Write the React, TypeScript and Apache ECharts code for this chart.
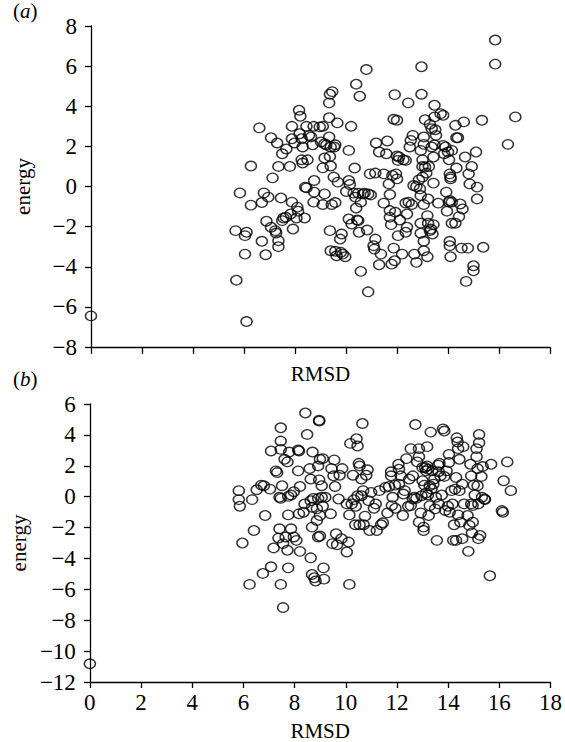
import React, { useEffect, useRef } from "react";
import * as echarts from "echarts";

const xTicksA: number[] = [0, 2, 4, 6, 8, 10, 12, 14, 16, 18];
const yRangeA = [-8, 8];
const yRangeB = [-12, 6];

const pointsA: number[][] = [
  [0, -6.45], [5.7, -4.67], [5.67, -2.2], [5.84, -0.32], [6.04, -2.45], [6.1, -2.28], [6.04, -3.37], [6.1, -6.73],
  [6.27, 1.02], [6.27, -0.93], [6.6, 2.92], [6.7, -2.73], [6.7, -0.8], [6.78, -0.32], [6.85, -3.4], [6.88, -1.73],
  [6.95, -0.53], [7.06, 2.43], [7.12, 0.43], [7.06, -2.03], [7.23, -2.2], [7.26, -2.32], [7.3, 2.17], [7.35, 1.0],
  [7.35, -2.7], [7.35, -3.0], [7.45, -0.57], [7.5, 1.63], [7.5, -1.7], [7.55, -1.57], [7.64, -1.53], [7.66, 1.87],
  [7.8, 1.0], [7.88, 3.0], [7.88, 2.38], [7.83, -1.37], [7.88, -0.78], [7.92, -2.12], [7.98, 2.17], [8.06, -1.57],
  [8.09, -1.03], [8.12, -1.23], [8.16, 3.8], [8.21, 3.5], [8.18, 2.63], [8.26, 2.38], [8.3, 1.97], [8.26, 1.33],
  [8.3, 1.17], [8.49, 1.33], [8.45, 3.0], [8.38, -1.57], [8.4, -0.03], [8.45, -0.07], [8.55, 2.55], [8.63, 2.47],
  [8.69, 2.08], [8.73, 3.0], [8.75, 0.3], [8.75, -0.28], [8.73, -0.78], [8.97, 2.97], [9.02, 2.22], [9.09, 3.0],
  [9.09, -0.9], [9.09, 0.93], [9.16, 2.13], [9.16, -0.37], [9.16, 1.42], [9.23, 2.07], [9.34, 3.43], [9.34, 4.17],
  [9.37, 4.6], [9.46, 4.73], [9.34, 2.47], [9.37, 1.5], [9.37, -2.2], [9.4, -3.2], [9.4, 1.02], [9.4, 1.97],
  [9.44, -0.9], [9.52, 0.47], [9.54, 1.97], [9.58, -0.8], [9.58, 2.08], [9.58, -3.23], [9.63, -3.45], [9.66, 3.17],
  [9.68, 0.22], [9.77, -2.62], [9.83, -2.37], [9.8, -3.28], [9.87, -3.37], [9.97, -3.5], [10.01, -0.25], [10.11, 1.8],
  [10.11, 0.3], [10.11, -1.62], [10.15, 0.1], [10.2, 3.0], [10.22, -1.87], [10.3, -0.33], [10.34, 0.92], [10.37, -0.53],
  [10.4, -1.07], [10.4, 5.1], [10.44, -1.67], [10.48, -1.7], [10.48, -0.33], [10.51, -2.28], [10.54, 4.5], [10.58, -4.23],
  [10.58, -0.78], [10.66, -0.37], [10.73, -0.33], [10.8, 5.83], [10.83, -2.17], [10.87, -5.25], [10.87, -0.37], [10.94, 0.63],
  [10.97, -0.42], [11.08, -2.95], [11.15, -2.62], [11.11, -3.12], [11.15, 0.67], [11.18, 2.17], [11.3, 1.72], [11.37, -3.37],
  [11.3, -3.9], [11.48, 0.63], [11.48, -0.83], [11.62, 2.27], [11.58, 1.63], [11.68, 0.13], [11.72, -0.4], [11.72, -1.2],
  [11.72, -1.53], [11.77, -1.9], [11.79, -3.87], [11.82, 0.55], [11.87, -3.07], [11.91, -3.7], [11.93, -1.28], [11.91, 4.58],
  [11.87, 3.35], [11.96, 0.63], [12.0, 0.38], [12.0, 3.3], [12.0, 1.52], [12.04, 1.3], [12.08, 1.47], [12.04, -2.45],
  [12.11, -1.67], [12.2, -3.37], [12.25, 1.33], [12.34, 1.3], [12.34, -0.82], [12.34, -2.28], [12.39, -2.03], [12.44, 4.17],
  [12.39, -1.37], [12.46, -0.78], [12.5, 1.97], [12.54, 2.3], [12.58, -0.9], [12.62, 2.55], [12.65, 0.05], [12.68, -3.37],
  [12.76, -3.78], [12.76, 0], [12.86, 0.33], [12.9, -0.12], [12.93, 1.8], [12.96, 5.97], [12.96, 4.6], [12.93, -0.45],
  [12.93, -1.83], [12.93, -2.33], [13.0, 1.33], [13.0, 1.0], [13.0, 0.47], [13.05, 2.47], [13.05, 2.1], [13.05, -0.9],
  [13.05, -2.73], [13.05, -3.2], [13.1, 3.33], [13.1, 0.97], [13.15, 0.67], [13.19, -1.45], [13.19, -3.5], [13.22, -1.83],
  [13.22, -0.62], [13.25, 1.0], [13.29, 3.1], [13.29, -2.2], [13.33, -2.12], [13.36, 2.88], [13.36, 1.97], [13.39, -2.37],
  [13.43, 1.47], [13.43, 0.17], [13.47, 4.05], [13.47, 3.47], [13.47, 2.08], [13.43, -1.9], [13.5, 2.83], [13.53, 2.55],
  [13.62, -0.83], [13.71, 3.63], [13.81, 3.55], [13.81, 2.05], [13.85, 1.63], [13.9, 1.97], [13.93, -0.28], [13.96, -1.23],
  [14.0, 1.72], [14.04, -0.78], [14.04, 1.33], [14.07, -0.7], [14.07, 0.63], [14.1, 0.47], [14.1, 0.38], [14.07, -2.73],
  [14.07, -2.95], [14.1, -3.5], [14.15, -1.83], [14.15, 1.8], [14.15, -0.78], [14.29, 3.05], [14.29, -1.83], [14.33, 0.92],
  [14.33, 2.43], [14.39, 2.43], [14.43, -1.5], [14.48, -0.87], [14.57, -1.12], [14.53, -3.07], [14.62, 3.22], [14.67, 1.47],
  [14.71, -4.73], [14.78, -3.07], [14.81, 0.63], [14.85, 0.13], [14.93, 1.0], [15.0, -3.95], [15.0, -4.2], [15.1, 1.72],
  [15.14, -0.03], [15.14, -0.62], [15.33, 3.3], [15.38, -3.03], [15.85, 7.3], [15.85, 6.1], [16.35, 2.1], [16.64, 3.47],
];

const pointsB: number[][] = [
  [0, -10.82], [5.82, 0.39], [5.82, -0.19], [5.86, -0.62], [5.96, -3.0], [6.24, -5.68], [6.34, -0.19], [6.41, -2.19],
  [6.52, 0.45], [6.7, 0.75], [6.76, -4.97], [6.8, 0.71], [6.85, -1.22], [7.04, 0.49], [7.08, 2.96], [7.08, -4.54],
  [7.18, -3.32], [7.27, 1.67], [7.32, 1.56], [7.37, -2.68], [7.41, -2.08], [7.41, -0.04], [7.46, -0.11], [7.46, 4.46],
  [7.46, 3.6], [7.46, 3.06], [7.46, -5.68], [7.51, 0.71], [7.55, -3.04], [7.55, -7.18], [7.61, 2.42], [7.65, -2.61],
  [7.72, 2.25], [7.72, -3.47], [7.75, -1.18], [7.75, 0.02], [7.75, -4.61], [7.79, 2.89], [7.86, 0.11], [7.86, -2.08],
  [7.97, 0.32], [7.97, -2.61], [8.07, -2.83], [8.14, 1.67], [8.14, 3.02], [8.17, 2.96], [8.17, -1.11], [8.21, -3.54],
  [8.21, 0.66], [8.35, -1.01], [8.39, -0.47], [8.42, 5.42], [8.49, 4.03], [8.59, 1.82], [8.63, 1.14], [8.63, -3.96],
  [8.63, -0.26], [8.68, -0.69], [8.68, -1.97], [8.68, -5.04], [8.7, 2.89], [8.73, -0.11], [8.77, -5.25], [8.82, -5.46],
  [8.87, -1.54], [8.87, -0.79], [8.92, -0.11], [8.92, 1.99], [8.92, -2.61], [8.96, 4.95], [8.96, 4.89], [8.96, 1.09],
  [8.99, 2.42], [8.99, -1.22], [8.99, -2.55], [9.06, -0.04], [9.06, 0.71], [9.1, 2.46], [9.1, -0.62], [9.13, -4.61],
  [9.15, -5.34], [9.2, -0.04], [9.41, -1.11], [9.44, 1.82], [9.48, -3.04], [9.52, 1.35], [9.55, 2.38], [9.58, 0.66],
  [9.62, -2.4], [9.66, -3.11], [9.72, -0.15], [9.76, 1.39], [9.83, -2.72], [9.86, 1.82], [10.04, -0.47], [10.04, -3.58],
  [10.11, -2.94], [10.14, -5.68], [10.14, -1.18], [10.18, 3.45], [10.23, -0.47], [10.28, 1.39], [10.32, -0.19], [10.37, -1.82],
  [10.39, -0.62], [10.42, 3.75], [10.46, 3.28], [10.46, 0.06], [10.51, 2.16], [10.54, 1.99], [10.54, -1.82], [10.61, 0.06],
  [10.61, 1.14], [10.65, 4.74], [10.68, 0.39], [10.7, -1.82], [10.75, -1.26], [10.8, 1.39], [10.85, 1.74], [10.89, -0.26],
  [10.93, -2.19], [10.99, 0.28], [11.1, -0.75], [11.17, -0.47], [11.21, -2.19], [11.31, 0.39], [11.38, -1.82], [11.45, -1.69],
  [11.55, 0.6], [11.63, -1.05], [11.69, 0.66], [11.77, 1.61], [11.77, 1.35], [11.8, -0.58], [11.83, -0.04], [11.92, 0.75],
  [11.94, -0.75], [12.06, 2.1], [12.08, 1.78], [12.08, 0.81], [12.15, 1.35], [12.23, -1.22], [12.25, 0.17], [12.3, 0.39],
  [12.37, 2.46], [12.44, -0.62], [12.48, 1.14], [12.54, -0.58], [12.54, 3.11], [12.62, 1.35], [12.62, -0.15], [12.68, -0.04],
  [12.72, 4.67], [12.76, -0.11], [12.79, 2.25], [12.86, 3.11], [12.86, 2.59], [12.86, -1.65], [12.93, -1.05], [12.96, 0.06],
  [13.0, 1.03], [13.0, 1.89], [13.04, -2.19], [13.04, -1.97], [13.07, 0.75], [13.1, 1.89], [13.14, 1.67], [13.14, 0.24],
  [13.18, 3.24], [13.18, 1.99], [13.21, 0.11], [13.21, 1.78], [13.24, -1.22], [13.28, -0.58], [13.28, 0.71], [13.32, 4.18],
  [13.35, 0.49], [13.38, 1.67], [13.42, 0.81], [13.46, 1.14], [13.49, -0.79], [13.52, -0.04], [13.56, -2.83], [13.61, 2.04],
  [13.63, -0.47], [13.63, 1.61], [13.66, 2.16], [13.7, 1.35], [13.75, 0.11], [13.8, 4.39], [13.85, 4.25], [13.85, 1.31],
  [13.89, -0.9], [13.94, 1.67], [13.99, -0.62], [14.03, 2.21], [14.03, 2.74], [14.06, -1.01], [14.13, 0.39], [14.17, -0.47],
  [14.2, -2.83], [14.23, -1.82], [14.27, 0.49], [14.31, 1.24], [14.31, -2.83], [14.34, 3.81], [14.37, 3.54], [14.39, 3.11],
  [14.39, -1.18], [14.44, 0.39], [14.44, 2.42], [14.48, -1.65], [14.55, 0.81], [14.55, -2.72], [14.59, 3.24], [14.62, -0.47],
  [14.76, -1.22], [14.79, -3.54], [14.83, -1.86], [14.87, 2.1], [14.9, 1.35], [14.9, -0.47], [14.93, -2.34], [14.96, -0.58],
  [14.96, -1.65], [15.0, 0.75], [15.04, 0.11], [15.11, 2.59], [15.11, 3.11], [15.15, 1.82], [15.15, 0.71], [15.18, -0.47],
  [15.18, -2.72], [15.21, 4.03], [15.21, 3.49], [15.25, -2.51], [15.3, 1.31], [15.32, -0.04], [15.35, 1.95], [15.42, -0.15],
  [15.44, -0.19], [15.63, -5.12], [15.68, 2.1], [16.1, -0.9], [16.14, -1.01], [16.17, 1.03], [16.31, 2.25], [16.45, 0.39],
];

const FONT = "Liberation Serif, Times New Roman, serif";
const FS = 21;
const TICK_FS = 23;

function App() {
  const ref = useRef<HTMLDivElement>(null);
  useEffect(() => {
    if (!ref.current) return;
    const chart = echarts.init(ref.current, null, { renderer: "svg" });
    const minus = (v: number) => (v < 0 ? "\u2212" + String(-v) : String(v));
    const axisLine = { show: true, onZero: false, lineStyle: { color: "#000", width: 1.3 } };
    const axisTick = { show: true, inside: false, length: 7, lineStyle: { color: "#000", width: 1.3 } };
    const label = { color: "#000", fontFamily: FONT, fontSize: TICK_FS, formatter: minus };
    const nameStyle = { color: "#000", fontFamily: FONT, fontSize: FS };
    const marker = {
      type: "scatter" as const,
      symbol: "circle",
      symbolSize: [11, 9.5],
      itemStyle: { color: "rgba(0,0,0,0)", borderColor: "#000", borderWidth: 1.4 },
      silent: true,
    };
    const rich = {
      n: { fontFamily: FONT, fontSize: FS, fill: "#000" },
      i: { fontFamily: FONT, fontSize: FS, fontStyle: "italic", fill: "#000" },
    };
    chart.setOption({
      animation: false,
      backgroundColor: "#fff",
      grid: [
        { left: 91, right: 15, top: 26, height: 321 },
        { left: 88, right: 13, top: 404, height: 280 },
      ],
      xAxis: [
        {
          gridIndex: 0, type: "value", min: xTicksA[0], max: xTicksA[xTicksA.length - 1], interval: 2,
          axisLine, axisTick, axisLabel: { show: false }, splitLine: { show: false },
          name: "RMSD", nameLocation: "middle", nameGap: 16, nameTextStyle: nameStyle,
        },
        {
          gridIndex: 1, type: "value", min: 0, max: 18, interval: 2,
          axisLine, axisTick: { ...axisTick, length: 6 }, axisLabel: { ...label, margin: 9 }, splitLine: { show: false },
          name: "RMSD", nameLocation: "middle", nameGap: 38, nameTextStyle: nameStyle,
        },
      ],
      yAxis: [
        {
          gridIndex: 0, type: "value", min: yRangeA[0], max: yRangeA[1], interval: 2,
          axisLine, axisTick: { ...axisTick, length: 6 }, axisLabel: { ...label, margin: 14 }, splitLine: { show: false },
          name: "energy", nameLocation: "middle", nameRotate: 90, nameGap: 58, nameTextStyle: nameStyle,
        },
        {
          gridIndex: 1, type: "value", min: yRangeB[0], max: yRangeB[1], interval: 2,
          axisLine, axisTick: { ...axisTick, length: 6 }, axisLabel: { ...label, margin: 14 }, splitLine: { show: false },
          name: "energy", nameLocation: "middle", nameRotate: 90, nameGap: 56, nameTextStyle: nameStyle,
        },
      ],
      series: [
        { ...marker, xAxisIndex: 0, yAxisIndex: 0, data: pointsA },
        { ...marker, xAxisIndex: 1, yAxisIndex: 1, data: pointsB },
      ],
      graphic: [
        { type: "text", left: 13, top: 0, style: { text: "{n|(}{i|a}{n|)}", rich } },
        { type: "text", left: 13, top: 368, style: { text: "{n|(}{i|b}{n|)}", rich } },
      ],
    });
    return () => chart.dispose();
  }, []);
  return (
    <div
      ref={ref}
      style={{ position: "fixed", left: 0, top: 0, width: 565, height: 742, background: "#fff" }}
    />
  );
}

export default App;
